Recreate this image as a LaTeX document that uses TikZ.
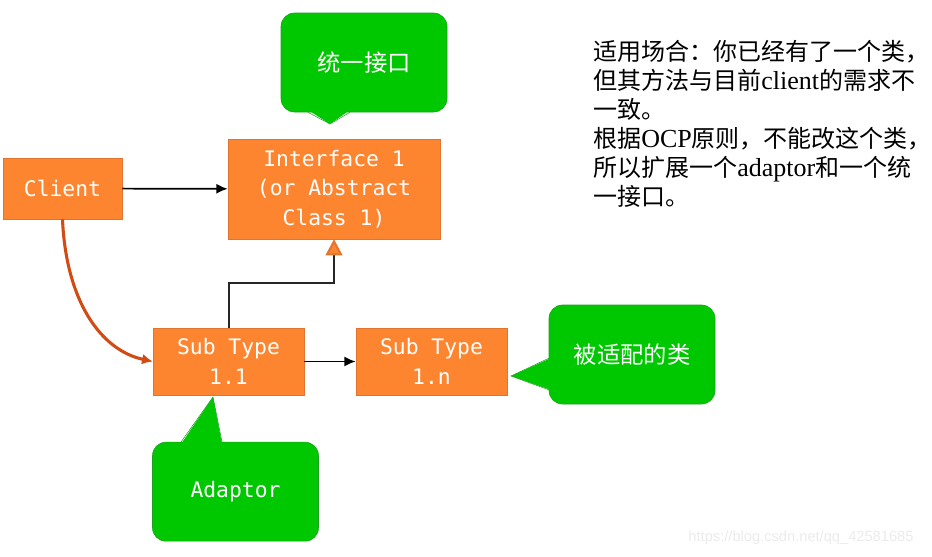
\documentclass[tikz,border=0pt]{standalone}
\usepackage{fontspec}
\setmainfont{Liberation Serif}
\setsansfont{Liberation Sans}
\setmonofont{DejaVu Sans Mono}
\newfontfamily\cjk{Noto Sans CJK SC}
\usetikzlibrary{arrows.meta}
\definecolor{boxorange}{HTML}{FD8530}
\definecolor{boxedge}{HTML}{E07530}
\definecolor{notegreen}{HTML}{00C800}
\definecolor{noteedge}{HTML}{1F9F1F}
\definecolor{callred}{HTML}{D24A14}
\definecolor{linegray}{HTML}{262626}
\newcommand{\lat}[1]{{\rmfamily\fontsize{19.5}{21.75}\selectfont #1}}

\begin{document}
\begin{tikzpicture}[x=0.75pt,y=-0.75pt,
    classbox/.style={draw=boxedge,fill=boxorange,text=white,inner sep=0pt,align=center,
      font=\ttfamily\fontsize{16}{22}\selectfont},
    note/.style={draw=noteedge,fill=notegreen,text=white,rounded corners=10pt,inner sep=0pt,
      minimum width=124.5pt,minimum height=74.25pt},
    cn/.style={font=\cjk\fontsize{17.5}{21}\selectfont},
    call/.style={line width=1.3pt,-{Latex[length=8.5pt,width=7.5pt]}}]
      \useasboundingbox (0,0) rectangle (932,557);

      \node[classbox,minimum width=89.25pt,minimum height=45.75pt] (client) at (62.5,188.5) {Client};
      \node[classbox,minimum width=159pt,minimum height=75pt] (iface) at (334,189) {Interface 1\\(or Abstract\\Class 1)};
      \node[classbox,minimum width=113.25pt,minimum height=50.25pt] (sub11) at (228.5,361.5) {Sub Type\\1.1};
      \node[classbox,minimum width=113.25pt,minimum height=50.25pt] (sub1n) at (431.5,361.5) {Sub Type\\1.n};

      \draw[call] (client) -- (iface);
      \draw[call] (sub11) -- (sub1n);
      \draw[linegray,line width=1.5pt,-{Triangle[length=12pt,width=12.5pt,fill=boxorange,color=boxedge]}]
        (sub11.north) -- ++(0,-45) -| (iface.south);
      \draw[callred,line width=2.3pt,-{Latex[length=8pt,width=8pt]}]
        (client.south) .. controls (66,300) and (100,350) .. (sub11.west);

      \node[note,cn] (ifacenote) at (364,62.5) {统一接口};
      \fill[notegreen] (308,110) -- (330,124) -- (350,110) -- cycle;
      \draw[noteedge,thin] (308,112.3) -- (330,124) -- (350,112.3);

      \node[note,cn] (adapteenote) at (632,354.5) {被适配的类};
      \fill[notegreen] (551,358) -- (511,376) -- (551,390) -- cycle;
      \draw[noteedge,thin] (549.3,358) -- (511,376) -- (549.3,390);

      \node[note,font=\ttfamily\fontsize{16}{22}\selectfont] (adaptornote) at (235.5,491.7) {Adaptor};
      \fill[notegreen] (181,444) -- (213,397) -- (222,444) -- cycle;
      \draw[noteedge,thin] (181,442) -- (213,397) -- (222,442);

      \node[anchor=north west,align=left,inner sep=0pt,font=\cjk\fontsize{18}{21.75}\selectfont] (usage) at (593,40)
        {适用场合：你已经有了一个类，\\但其方法与目前\lat{client}的需求不\\一致。\\根据\lat{OCP}原则，不能改这个类，\\所以扩展一个\lat{adaptor}和一个统\\一接口。};

      \node[text=black!8,font=\sffamily\fontsize{11}{13}\selectfont] (mark) at (801,538) {https://blog.csdn.net/qq\_42581685};
\end{tikzpicture}
\end{document}
